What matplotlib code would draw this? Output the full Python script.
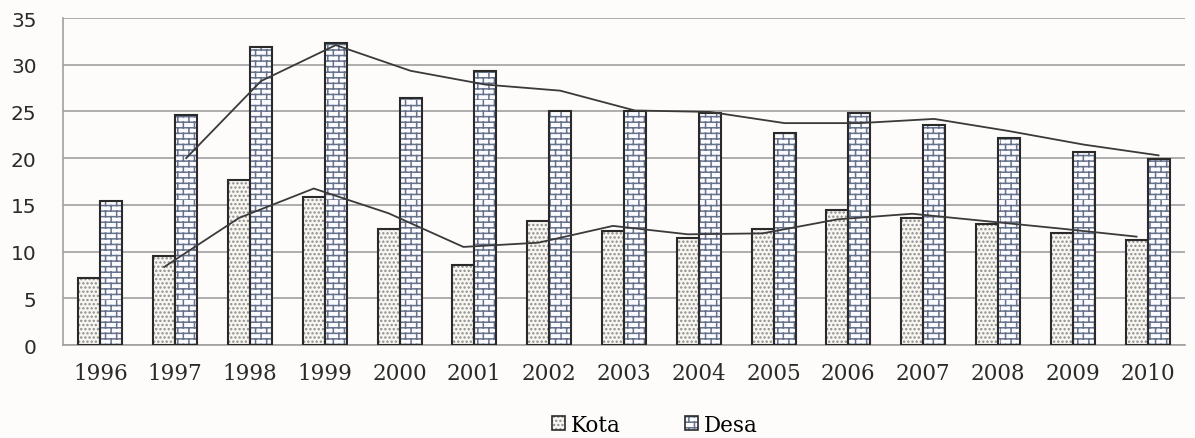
import warnings
import numpy as np
import matplotlib
matplotlib.use("Agg")
import matplotlib.pyplot as plt
import matplotlib.hatch as mhatch
from matplotlib.path import Path
from matplotlib.patches import Patch

warnings.filterwarnings("ignore")

years = ["1996", "1997", "1998", "1999", "2000", "2001", "2002", "2003",
         "2004", "2005", "2006", "2007", "2008", "2009", "2010"]
kota = [7.2, 9.5, 17.7, 15.8, 12.4, 8.6, 13.3, 12.2, 11.5, 12.4, 14.5, 13.6, 12.9, 12.0, 11.2]
desa = [15.4, 24.6, 31.9, 32.3, 26.4, 29.35, 25.1, 25.1, 24.8, 22.7, 24.8, 23.6, 22.2, 20.7, 19.9]
y_ticks = [0, 5, 10, 15, 20, 25, 30, 35]


# brick hatch ('b'), matplotlib has no built-in one
class BrickHatch(mhatch.HatchPatternBase):
    def __init__(self, hatch, density):
        self.rows = 3 * int(hatch.count('b') * density)
        self.cols = self.rows // 2
        self.num_vertices = self.rows * (2 + 2 * self.cols)

    def set_vertices_and_codes(self, vertices, codes):
        k = 0
        for i in range(self.rows):
            y0 = i / self.rows
            y1 = (i + 1) / self.rows
            vertices[k] = (0, y0)
            vertices[k + 1] = (1, y0)
            codes[k] = Path.MOVETO
            codes[k + 1] = Path.LINETO
            k += 2
            off = 0.5 * (i % 2)
            for j in range(self.cols):
                x = (j + off) / self.cols
                vertices[k] = (x, y0)
                vertices[k + 1] = (x, y1)
                codes[k] = Path.MOVETO
                codes[k + 1] = Path.LINETO
                k += 2


mhatch._hatch_types.append(BrickHatch)

plt.rcParams["hatch.linewidth"] = 1.1

kota_fill, kota_dots = "#f8f6f1", "#8c8c8c"
desa_fill, desa_brick = "#fbfbfd", "#66728d"
outline = "#2a2a2a"

fig = plt.figure(figsize=(11.95, 4.39), dpi=100)
fig.patch.set_facecolor("#fdfcfa")
ax = fig.add_axes([0.0527, 0.2118, 0.9389, 0.7449])
ax.set_facecolor("#fdfcfa")

x = np.arange(len(years))
w = 0.294

ax.bar(x - w / 2, kota, w, color=kota_fill, hatch="....", edgecolor=kota_dots, linewidth=0, zorder=2)
ax.bar(x + w / 2, desa, w, color=desa_fill, hatch="b", edgecolor=desa_brick, linewidth=0, zorder=2)
ax.bar(x - w / 2, kota, w, fill=False, edgecolor=outline, linewidth=1.5, zorder=3)
ax.bar(x + w / 2, desa, w, fill=False, edgecolor=outline, linewidth=1.5, zorder=3)

# 2-period moving average trend lines
kota_ma = (np.array(kota[1:]) + np.array(kota[:-1])) / 2
desa_ma = (np.array(desa[1:]) + np.array(desa[:-1])) / 2
ax.plot(x[1:] - w / 2, kota_ma, color="#3a3a3a", linewidth=1.3, zorder=4)
ax.plot(x[1:] + w / 2, desa_ma, color="#3a3a3a", linewidth=1.3, zorder=4)

ax.set_xlim(-0.5, len(years) - 0.5)
ax.set_ylim(0, 35)
ax.set_yticks(y_ticks)
ax.set_xticks(x)
ax.set_xticklabels(years, fontfamily="DejaVu Serif", fontsize=15.5, color="#2a2a2a")
ax.tick_params(axis="x", length=0, pad=12)
ax.tick_params(axis="y", length=0, pad=19, labelsize=14.5, labelcolor="#2a2a2a")
ax.yaxis.grid(True, color="#a0a0a0", linewidth=1.2, zorder=0)
ax.set_axisbelow(True)
for s in ["top", "right"]:
    ax.spines[s].set_visible(False)
for s in ["left", "bottom"]:
    ax.spines[s].set_color("#a0a0a0")
    ax.spines[s].set_linewidth(1.2)

h_kota = (Patch(facecolor=kota_fill, hatch="....", edgecolor=kota_dots, linewidth=0),
          Patch(fill=False, edgecolor=outline, linewidth=1.2))
h_desa = (Patch(facecolor=desa_fill, hatch="b", edgecolor=desa_brick, linewidth=0),
          Patch(fill=False, edgecolor=outline, linewidth=1.2))
fig.legend([h_kota, h_desa], ["Kota", "Desa"], loc="center", bbox_to_anchor=(0.548, 0.03),
           ncol=2, frameon=False, prop={"family": "DejaVu Serif", "size": 15.5},
           handlelength=0.6, handleheight=0.6, handletextpad=0.25, columnspacing=3.0)

fig.savefig("out.png", dpi=100, facecolor=fig.get_facecolor())
